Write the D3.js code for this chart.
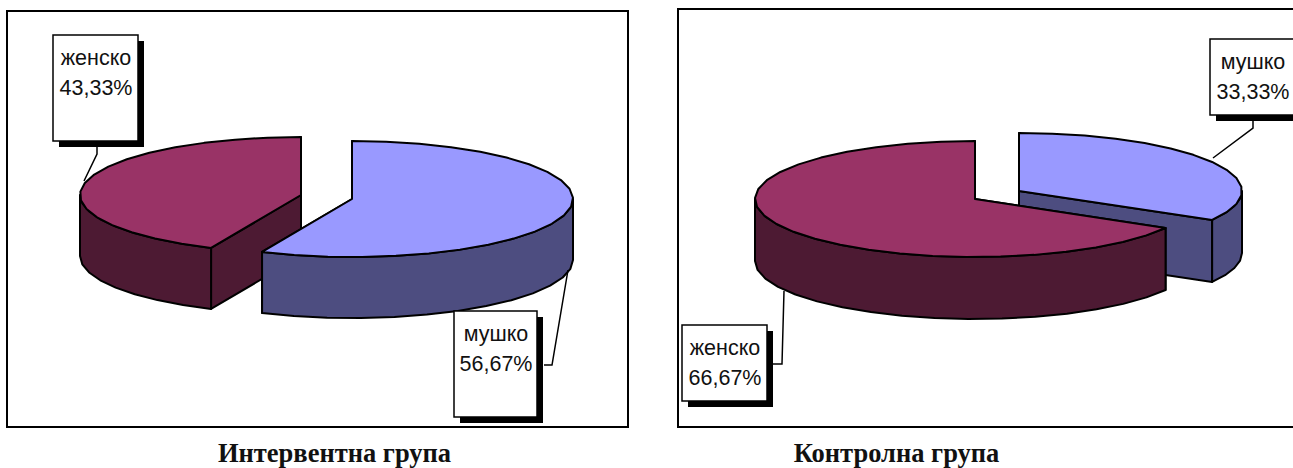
<!DOCTYPE html>
<html>
<head>
<meta charset="utf-8">
<script src="https://cdnjs.cloudflare.com/ajax/libs/d3/7.8.5/d3.min.js"></script>
<style>
  html, body { margin: 0; padding: 0; background: #fff; overflow: hidden; }
  svg { display: block; }
  .value-label { font-family: "Liberation Sans", Arial, sans-serif; font-size: 21.5px; fill: #111; text-anchor: middle; }
  .caption { font-family: "Liberation Serif", "Times New Roman", serif; font-size: 26.5px; font-weight: bold; fill: #111; text-anchor: middle; }
</style>
</head>
<body>
<div id="chart"></div>
<script>
// Data
const groups = ["Интервентна група", "Контролна група"];
const genders = ["мушко", "женско"];
const interventionShares = [56.67, 43.33];
const controlShares = [33.33, 66.67];

const topColors = { "мушко": "#9999ff", "женско": "#993366" };
const sideColors = { "мушко": "#4d4d80", "женско": "#4d1a33" };

// Where everything sits on the page
const panels = [
  {
    group: groups[0], shares: interventionShares,
    frame: { x: 7, y: 11, w: 621, h: 416 }, captionX: 334.5,
    rx: { "мушко": 221, "женско": 221 }, ry: 58, depth: 61,
    centers: { "мушко": [352, 199], "женско": [301, 195] },
    boxes: {
      "мушко": { x: 454, y: 311, w: 83, h: 106, tx: 496, leader: [[544, 365], [552, 365], [568, 270]] },
      "женско": { x: 53, y: 35, w: 85, h: 106, tx: 96, leader: [[97, 147], [97, 154], [84, 181]] }
    }
  },
  {
    group: groups[1], shares: controlShares,
    frame: { x: 678, y: 9, w: 640, h: 418 }, captionX: 896.5,
    rx: { "мушко": 223, "женско": 220 }, ry: 58, depth: 62,
    centers: { "мушко": [1019, 191], "женско": [975, 199] },
    boxes: {
      "мушко": { x: 1210, y: 39, w: 86, h: 76, tx: 1253, leader: [[1253, 120], [1253, 128], [1213, 158]] },
      "женско": { x: 682, y: 325, w: 85, h: 76, tx: 725, leader: [[773, 364], [782, 364], [784, 291]] }
    }
  }
];

const svg = d3.select("#chart").append("svg").attr("width", 1293).attr("height", 468);
const pie = d3.pie().sort(null).value(d => d.share);
const lineGen = d3.line();
const seg = Math.PI / 20; // coarse sampling, the original outline is faceted

function arcAngles(a0, a1) {
  const n = Math.max(1, Math.ceil((a1 - a0) / seg));
  return d3.range(n + 1).map(i => a0 + (a1 - a0) * i / n);
}

function drawSlice(g, slice, panel) {
  const gender = slice.data.gender;
  const [cx, cy] = panel.centers[gender];
  const rx = panel.rx[gender];
  const pt = (a, dy) => [cx + rx * Math.sin(a), cy - panel.ry * Math.cos(a) + (dy || 0)];
  const path = pts => lineGen(pts) + "Z";
  const style = sel => sel.attr("stroke", "#000").attr("stroke-width", 2).attr("stroke-linejoin", "round");

  // cut faces, the top of the slice hides the ones turned away
  [slice.startAngle, slice.endAngle].forEach(a => {
    g.append("path")
      .attr("d", path([[cx, cy], pt(a), pt(a, panel.depth), [cx, cy + panel.depth]]))
      .attr("fill", sideColors[gender])
      .call(style);
  });

  // outer wall, only the part facing the viewer
  const from = Math.max(slice.startAngle, Math.PI / 2);
  const to = Math.min(slice.endAngle, Math.PI * 1.5);
  if (to > from) {
    const angles = arcAngles(from, to);
    const upper = angles.map(a => pt(a));
    const lower = angles.slice().reverse().map(a => pt(a, panel.depth));
    g.append("path")
      .attr("d", path(upper.concat(lower)))
      .attr("fill", sideColors[gender])
      .call(style);
  }

  // top face
  const rim = arcAngles(slice.startAngle, slice.endAngle).map(a => pt(a));
  g.append("path")
    .attr("d", path([[cx, cy]].concat(rim)))
    .attr("fill", topColors[gender])
    .call(style);
}

function drawLabel(g, slice, panel) {
  const gender = slice.data.gender;
  const box = panel.boxes[gender];
  g.append("path")
    .attr("d", lineGen(box.leader))
    .attr("fill", "none")
    .attr("stroke", "#000")
    .attr("stroke-width", 1.5);
  g.append("rect")
    .attr("x", box.x + 6).attr("y", box.y + 6)
    .attr("width", box.w).attr("height", box.h)
    .attr("fill", "#000");
  g.append("rect")
    .attr("x", box.x).attr("y", box.y)
    .attr("width", box.w).attr("height", box.h)
    .attr("fill", "#fff")
    .attr("stroke", "#000")
    .attr("stroke-width", 1.5);
  g.append("text").attr("class", "value-label")
    .attr("x", box.tx).attr("y", box.y + 30)
    .text(gender);
  g.append("text").attr("class", "value-label")
    .attr("x", box.tx).attr("y", box.y + 60)
    .text(slice.data.share.toFixed(2).replace(".", ",") + "%");
}

panels.forEach(panel => {
  const g = svg.append("g");
  g.append("rect")
    .attr("x", panel.frame.x).attr("y", panel.frame.y)
    .attr("width", panel.frame.w).attr("height", panel.frame.h)
    .attr("fill", "#fff")
    .attr("stroke", "#000")
    .attr("stroke-width", 2);

  const slices = pie(genders.map((gender, i) => ({ gender: gender, share: panel.shares[i] })));

  // the bigger slice sits in front
  slices.slice().sort((a, b) => a.value - b.value).forEach(s => drawSlice(g, s, panel));
  slices.forEach(s => drawLabel(g, s, panel));

  svg.append("text").attr("class", "caption")
    .attr("x", panel.captionX).attr("y", 462)
    .text(panel.group);
});
</script>
</body>
</html>
